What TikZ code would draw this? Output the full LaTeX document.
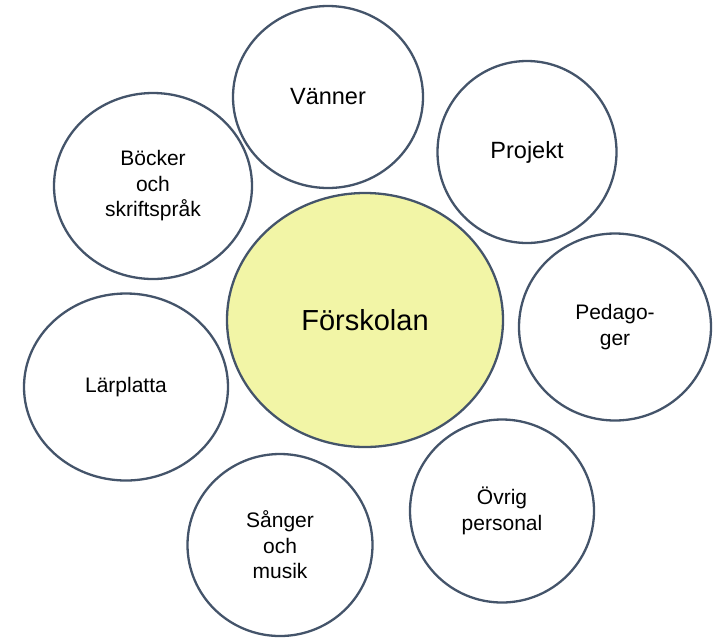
\documentclass[tikz,border=0pt]{standalone}
\usepackage{fontspec}
\setmainfont{Liberation Sans}
\usetikzlibrary{shapes.geometric}
\definecolor{edgecol}{RGB}{68,84,106}
\definecolor{corecol}{RGB}{242,245,166}
\begin{document}
\begin{tikzpicture}[x=1pt,y=-1pt,
  bubble/.style={ellipse, draw=edgecol, line width=2.3pt, fill=white, inner sep=0pt,
    align=center, font=\fontsize{21}{25.5}\selectfont},
  bigtext/.style={font=\fontsize{23.5}{27}\selectfont},
  core/.style={fill=corecol, font=\fontsize{29}{34}\selectfont}]
\useasboundingbox (0,0) rectangle (717,638);
\node[bubble, core, minimum width=276, minimum height=254] (fsk) at (365,320) {Förskolan};
\node[bubble, bigtext, minimum width=190, minimum height=182] (vanner) at (328,97) {Vänner};
\node[bubble, bigtext, minimum width=179, minimum height=182] (projekt) at (527,152) {Projekt};
\node[bubble, minimum width=198, minimum height=186] (bocker) at (153,186) {Böcker\\och\\skriftspråk};
\node[bubble, minimum width=192, minimum height=187] (pedagoger) at (615,327) {Pedago-\\ger};
\node[bubble, minimum width=204, minimum height=187] (larplatta) at (126,387) {Lärplatta};
\node[bubble, minimum width=185, minimum height=182] (sanger) at (280,545) {Sånger\\och\\musik};
\node[bubble, minimum width=184, minimum height=183] (ovrig) at (502,511) {Övrig\\personal};
\end{tikzpicture}
\end{document}
